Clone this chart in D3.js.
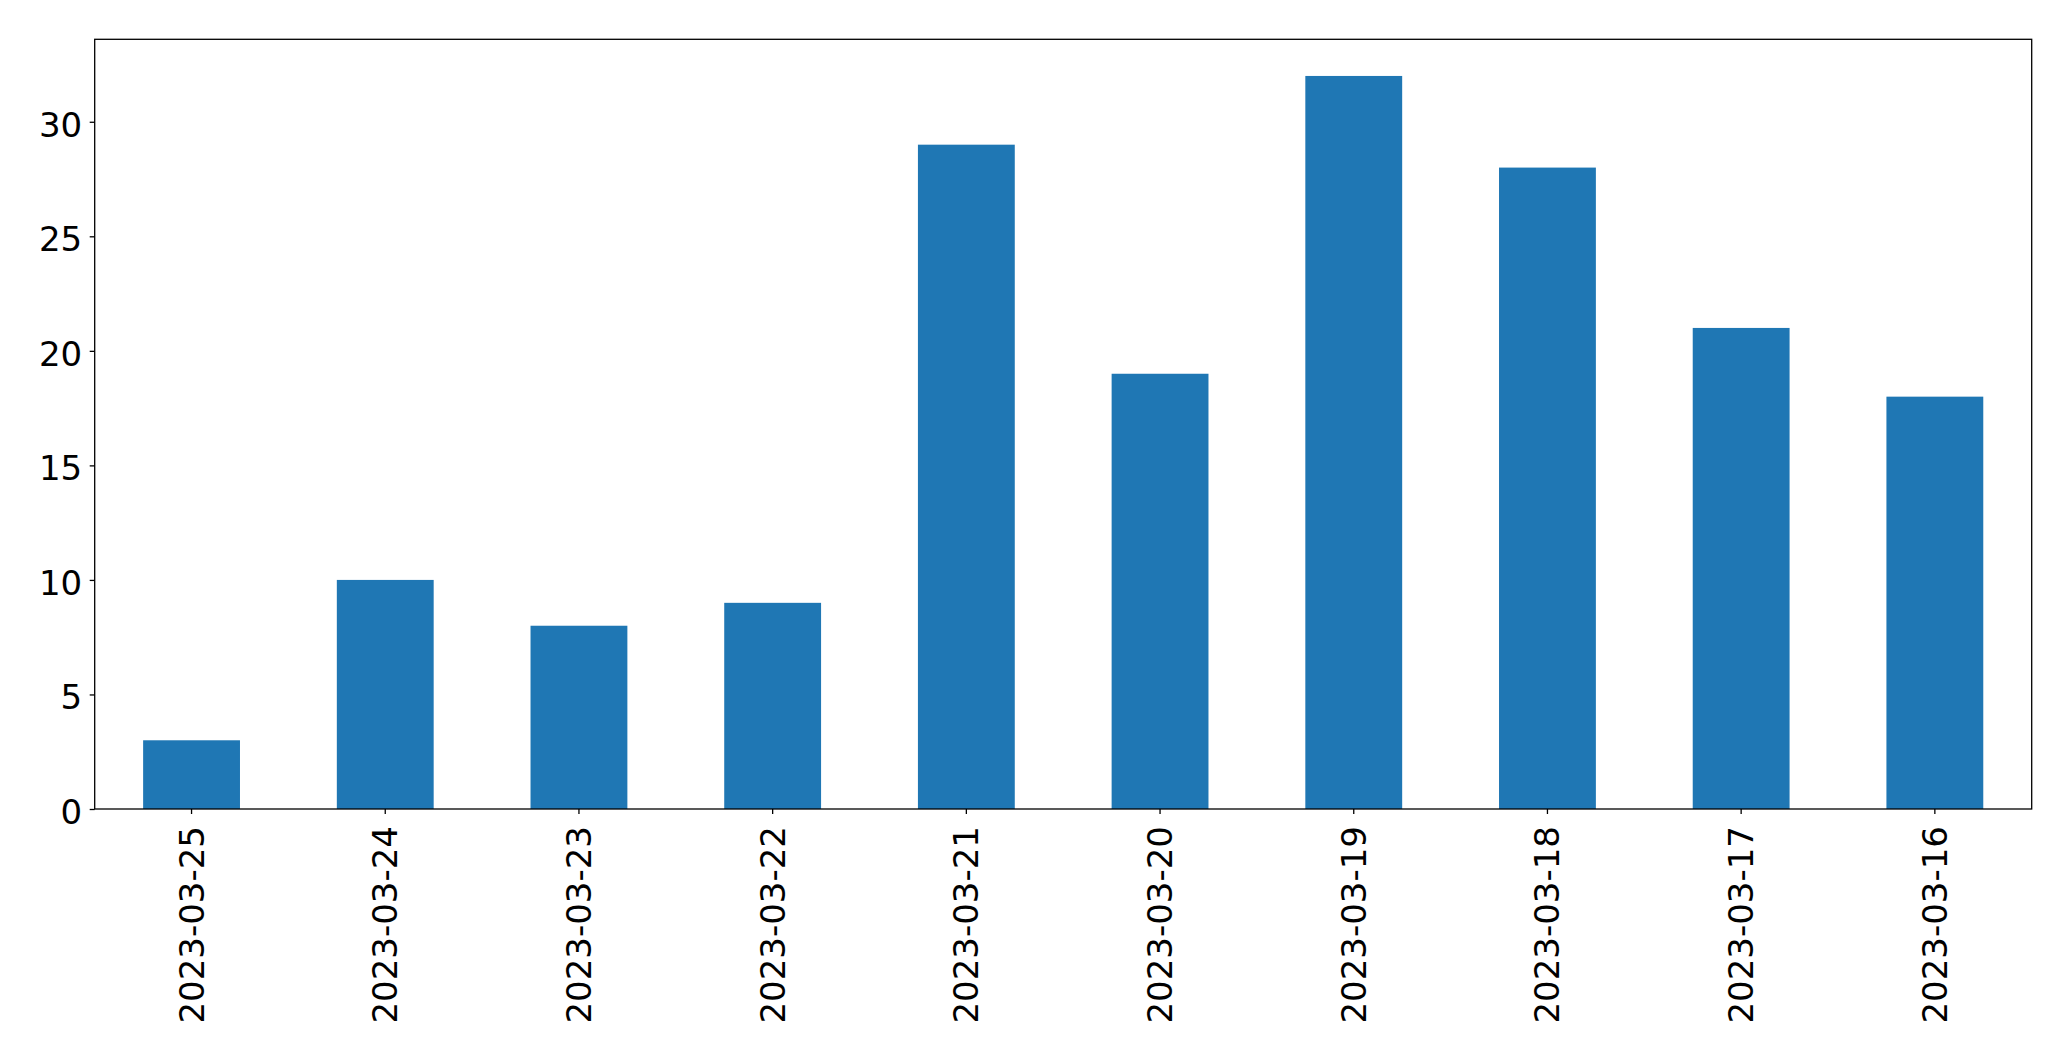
<!DOCTYPE html>
<html>
<head>
<meta charset="utf-8">
<script src="https://cdn.jsdelivr.net/npm/d3@7"></script>
<style>
    body { margin: 0; background: #fff; }
    svg { display: block; }
    .tick-label { font-family: "DejaVu Sans", sans-serif; font-size: 34px; fill: #000; }
</style>
</head>
<body>
<svg id="chart"></svg>
<script>
// 数据
const dates = ['2023-03-25', '2023-03-24', '2023-03-23', '2023-03-22', '2023-03-21',
    '2023-03-20', '2023-03-19', '2023-03-18', '2023-03-17', '2023-03-16'];
const counts = [3, 10, 8, 9, 29, 19, 32, 28, 21, 18];
const yTicks = [0, 5, 10, 15, 20, 25, 30];

const width = 2071, height = 1061;
const margin = {left: 94.7, top: 39.3, right: width - 2031.7, bottom: height - 809};

let svg = d3.select('#chart')
    .attr('width', width)
    .attr('height', height);

// 比例尺
let x = d3.scaleBand()
    .domain(dates)
    .range([margin.left, width - margin.right])
    .paddingInner(0.5)
    .paddingOuter(0.25);

let y = d3.scaleLinear()
    .domain([0, d3.max(counts) * 1.05])
    .range([height - margin.bottom, margin.top]);

// 画柱子
svg.selectAll('rect.bar')
    .data(dates)
    .enter()
    .append('rect')
    .attr('class', 'bar')
    .attr('x', d => x(d))
    .attr('width', x.bandwidth())
    .attr('y', (d, i) => y(counts[i]))
    .attr('height', (d, i) => y(0) - y(counts[i]))
    .attr('fill', '#1f77b4');

// y 轴
let yAxis = svg.append('g')
    .attr('transform', 'translate(' + margin.left + ',0)')
    .call(d3.axisLeft(y).tickValues(yTicks).tickSize(5).tickPadding(7.5).tickFormat(d3.format('d')));
yAxis.select('.domain').remove();
yAxis.selectAll('line').attr('stroke', '#000').attr('stroke-width', 1.3);
yAxis.selectAll('text')
    .attr('class', 'tick-label')
    .attr('dy', '0.42em');

// x 轴
let xAxis = svg.append('g')
    .attr('transform', 'translate(0,' + (height - margin.bottom) + ')')
    .call(d3.axisBottom(x).tickSize(5).tickPadding(0));
xAxis.select('.domain').remove();
xAxis.selectAll('line').attr('stroke', '#000').attr('stroke-width', 1.3);
xAxis.selectAll('text')
    .attr('class', 'tick-label')
    .attr('y', 0)
    .attr('x', 0)
    .attr('dy', 0)
    .attr('text-anchor', 'end')
    .attr('transform', 'translate(0,17) rotate(-90)')
    .attr('dominant-baseline', 'central');

// 边框
svg.append('rect')
    .attr('x', margin.left)
    .attr('y', margin.top)
    .attr('width', width - margin.left - margin.right)
    .attr('height', height - margin.top - margin.bottom)
    .attr('fill', 'none')
    .attr('stroke', '#000')
    .attr('stroke-width', 1.3);
</script>
</body>
</html>
